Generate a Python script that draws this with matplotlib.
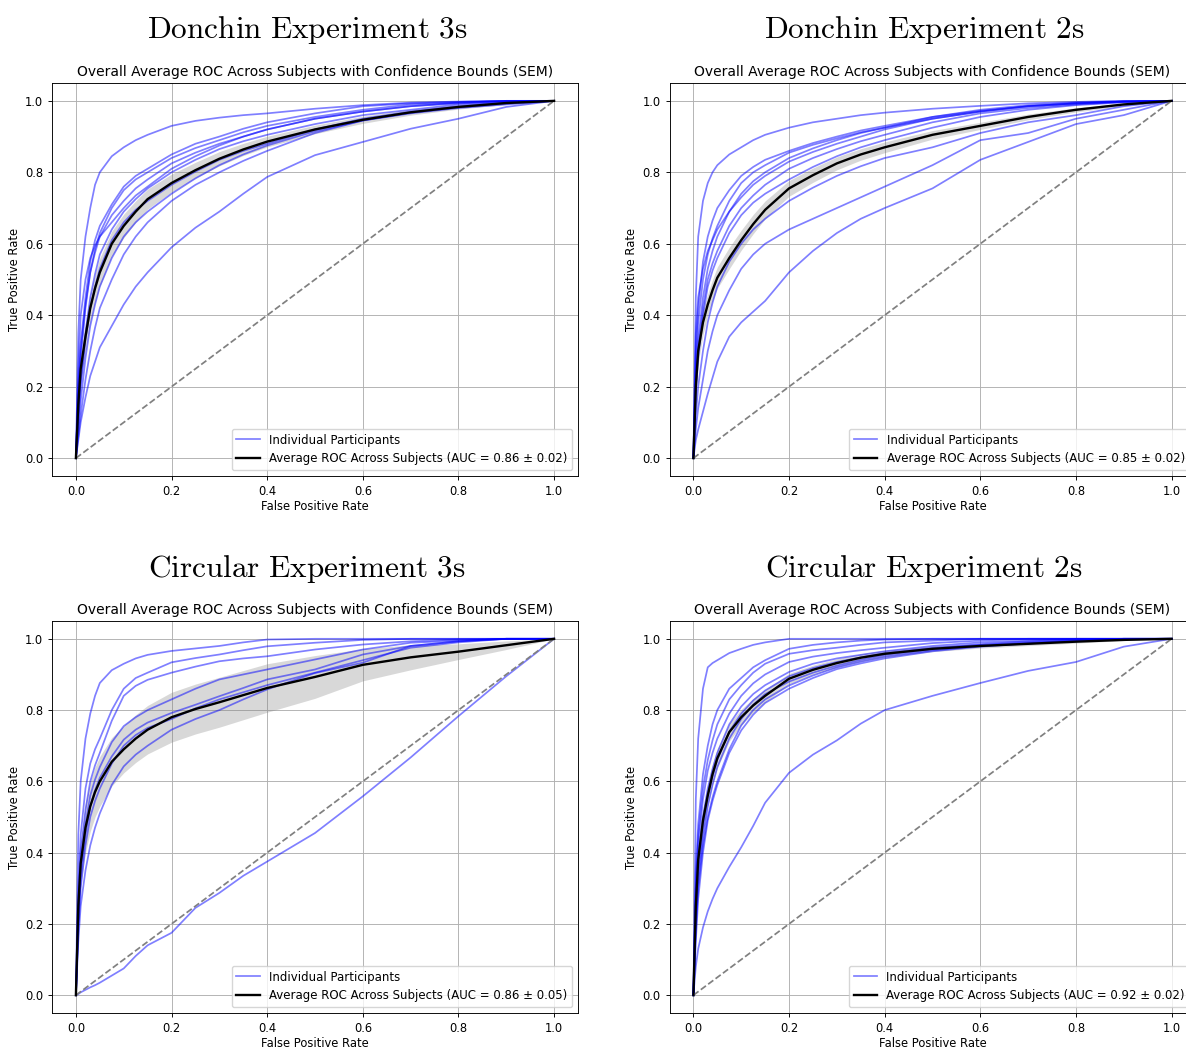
import numpy as np
import matplotlib
matplotlib.use("Agg")
import matplotlib.pyplot as plt

plt.rcParams["mathtext.fontset"] = "cm"
plt.rcParams["font.family"] = ["DejaVu Sans"]

# Common false-positive-rate grid on which every ROC curve is sampled
FPR_GRID = [0, 0.005, 0.01, 0.02, 0.03, 0.04, 0.05, 0.075, 0.1, 0.125, 0.15,
            0.2, 0.25, 0.3, 0.35, 0.4, 0.5, 0.6, 0.7, 0.8, 0.9, 1.0]

# ---------------- Donchin Experiment 3s ----------------
DONCHIN_3S_TPR = [
    [0, .35, .50, .62, .70, .765, .80, .845, .87, .89, .905, .93, .944, .953, .96, .965, .978, .988, .995, .998, 1, 1],
    [0, .20, .32, .45, .55, .61, .65, .71, .76, .79, .81, .85, .88, .90, .922, .94, .965, .985, .993, .997, 1, 1],
    [0, .15, .28, .42, .52, .585, .63, .70, .75, .78, .80, .84, .868, .89, .912, .93, .955, .975, .99, .995, 1, 1],
    [0, .18, .30, .43, .52, .575, .62, .68, .72, .755, .78, .825, .855, .88, .90, .92, .95, .97, .985, .993, .998, 1],
    [0, .12, .22, .35, .45, .515, .57, .64, .69, .725, .755, .80, .835, .865, .887, .905, .935, .96, .975, .99, .997, 1],
    [0, .10, .20, .33, .42, .48, .53, .61, .66, .695, .72, .765, .802, .835, .86, .88, .92, .95, .97, .985, .995, 1],
    [0, .08, .16, .28, .37, .43, .48, .56, .62, .66, .69, .74, .783, .82, .85, .875, .915, .945, .967, .982, .993, 1],
    [0, .06, .12, .22, .30, .365, .42, .50, .57, .62, .66, .72, .765, .80, .832, .86, .91, .945, .965, .98, .99, 1],
    [0, .05, .10, .17, .23, .27, .31, .37, .43, .48, .52, .59, .645, .69, .74, .787, .848, .885, .922, .95, .983, 1],
    [0, .25, .40, .50, .56, .595, .62, .66, .70, .735, .76, .81, .845, .875, .90, .92, .95, .97, .985, .995, 1, 1],
]
DONCHIN_3S_MEAN = [0, .15, .25, .34, .42, .475, .52, .60, .65, .69, .725, .77, .806, .838, .864, .886, .92, .947, .968, .983, .994, 1]
DONCHIN_3S_SEM = [0, .03, .035, .04, .04, .04, .04, .035, .033, .03, .028, .025, .022, .02, .017, .015, .012, .01, .008, .006, .004, 0]

# ---------------- Donchin Experiment 2s ----------------
DONCHIN_2S_TPR = [
    [0, .45, .62, .72, .77, .80, .82, .85, .87, .89, .905, .925, .94, .95, .96, .967, .978, .986, .993, .997, 1, 1],
    [0, .30, .42, .55, .62, .665, .70, .75, .79, .815, .835, .86, .882, .90, .917, .93, .955, .975, .988, .995, .999, 1],
    [0, .25, .38, .50, .57, .615, .65, .72, .77, .80, .82, .855, .877, .895, .912, .925, .955, .972, .985, .993, .998, 1],
    [0, .22, .33, .45, .53, .58, .62, .69, .74, .775, .80, .84, .867, .89, .91, .925, .95, .97, .985, .993, .998, 1],
    [0, .20, .30, .42, .50, .545, .58, .65, .70, .735, .765, .81, .84, .865, .887, .905, .94, .965, .98, .99, .997, 1],
    [0, .18, .28, .40, .48, .525, .56, .63, .68, .715, .74, .78, .815, .845, .87, .89, .925, .955, .975, .988, .996, 1],
    [0, .12, .20, .30, .38, .435, .48, .55, .60, .64, .67, .72, .757, .79, .817, .84, .87, .91, .94, .96, .985, 1],
    [0, .08, .14, .22, .30, .355, .40, .47, .53, .57, .60, .64, .67, .70, .73, .76, .82, .89, .91, .95, .975, 1],
    [0, .05, .08, .13, .18, .225, .27, .34, .38, .41, .44, .52, .58, .63, .67, .70, .755, .835, .885, .935, .96, 1],
    [0, .35, .45, .53, .58, .61, .64, .69, .73, .765, .79, .83, .857, .88, .90, .92, .95, .97, .985, .993, .998, 1],
]
DONCHIN_2S_MEAN = [0, .20, .30, .38, .43, .47, .505, .56, .61, .655, .695, .755, .792, .825, .85, .87, .905, .93, .955, .975, .99, 1]
DONCHIN_2S_SEM = [0, .03, .035, .035, .03, .03, .03, .03, .028, .027, .025, .022, .02, .018, .016, .015, .012, .01, .008, .006, .004, 0]

# ---------------- Circular Experiment 3s ----------------
CIRCULAR_3S_TPR = [
    [0, .45, .60, .72, .79, .84, .876, .912, .93, .945, .955, .966, .973, .98, .99, .998, 1, 1, 1, 1, 1, 1],
    [0, .30, .45, .58, .65, .69, .72, .80, .86, .89, .905, .934, .946, .956, .968, .979, .989, .997, 1, 1, 1, 1],
    [0, .25, .40, .52, .60, .645, .68, .77, .84, .868, .885, .905, .922, .937, .945, .951, .97, .984, .993, .998, 1, 1],
    [0, .22, .36, .48, .56, .605, .64, .71, .755, .78, .80, .83, .86, .886, .90, .914, .942, .97, .989, .995, 1, 1],
    [0, .20, .33, .45, .53, .575, .61, .67, .717, .745, .765, .792, .815, .839, .862, .886, .914, .956, .98, .993, 1, 1],
    [0, .15, .25, .35, .42, .47, .51, .59, .642, .675, .70, .745, .775, .80, .83, .858, .904, .933, .98, .993, 1, 1],
    [0, .18, .30, .42, .50, .545, .58, .65, .70, .73, .75, .775, .805, .83, .85, .87, .905, .94, .975, .99, 1, 1],
    [0, .003, .008, .015, .022, .028, .035, .055, .075, .11, .14, .175, .245, .287, .335, .375, .455, .558, .667, .783, .895, 1],
]
CIRCULAR_3S_MEAN = [0, .25, .37, .47, .53, .57, .60, .655, .69, .72, .745, .78, .803, .822, .842, .862, .893, .927, .948, .964, .982, 1]
CIRCULAR_3S_SEM = [0, .05, .06, .07, .07, .07, .07, .068, .066, .067, .068, .07, .07, .07, .069, .068, .06, .045, .035, .022, .012, 0]

# ---------------- Circular Experiment 2s ----------------
CIRCULAR_2S_TPR = [
    [0, .55, .72, .86, .92, .932, .94, .96, .972, .983, .99, 1, 1, 1, 1, 1, 1, 1, 1, 1, 1, 1],
    [0, .35, .48, .62, .70, .76, .80, .86, .89, .92, .94, .972, .983, .99, .995, .998, 1, 1, 1, 1, 1, 1],
    [0, .30, .45, .58, .66, .715, .76, .83, .87, .905, .93, .958, .968, .975, .983, .99, .995, 1, 1, 1, 1, 1],
    [0, .30, .42, .55, .63, .68, .72, .79, .84, .875, .90, .935, .95, .96, .968, .975, .988, .995, 1, 1, 1, 1],
    [0, .25, .38, .50, .58, .635, .68, .76, .81, .845, .87, .907, .93, .945, .955, .965, .98, .99, .995, 1, 1, 1],
    [0, .22, .35, .47, .56, .615, .66, .74, .79, .827, .855, .895, .918, .935, .948, .96, .975, .985, .993, .998, 1, 1],
    [0, .20, .32, .44, .53, .59, .64, .72, .775, .815, .845, .88, .905, .925, .941, .955, .972, .983, .99, .996, 1, 1],
    [0, .18, .30, .42, .50, .555, .60, .69, .757, .80, .83, .869, .897, .92, .936, .95, .968, .98, .988, .995, 1, 1],
    [0, .15, .27, .40, .49, .545, .59, .68, .743, .787, .82, .86, .89, .915, .931, .945, .965, .978, .987, .994, 1, 1],
    [0, .08, .13, .19, .235, .27, .30, .36, .415, .475, .54, .624, .675, .715, .762, .80, .84, .876, .91, .935, .978, 1],
]
CIRCULAR_2S_MEAN = [0, .25, .38, .49, .56, .62, .665, .738, .78, .813, .84, .888, .913, .932, .947, .958, .972, .98, .986, .992, .997, 1]
CIRCULAR_2S_SEM = [0, .04, .04, .035, .03, .029, .028, .025, .022, .02, .018, .015, .013, .012, .011, .01, .008, .006, .005, .004, .002, 0]

PANEL_TITLES = ["Donchin Experiment 3s", "Donchin Experiment 2s",
                "Circular Experiment 3s", "Circular Experiment 2s"]
AUC_MEAN = [0.86, 0.85, 0.86, 0.92]
AUC_SEM = [0.02, 0.02, 0.05, 0.02]

panels = [
    (DONCHIN_3S_TPR, DONCHIN_3S_MEAN, DONCHIN_3S_SEM),
    (DONCHIN_2S_TPR, DONCHIN_2S_MEAN, DONCHIN_2S_SEM),
    (CIRCULAR_3S_TPR, CIRCULAR_3S_MEAN, CIRCULAR_3S_SEM),
    (CIRCULAR_2S_TPR, CIRCULAR_2S_MEAN, CIRCULAR_2S_SEM),
]

W, H = 1186, 1049
fig = plt.figure(figsize=(W / 100, H / 100), dpi=100)

# axes boxes in pixels: (left, top, width, height)
boxes = [(52, 83, 526, 393), (669.5, 83, 526, 393),
         (52, 621, 526, 392), (669.5, 621, 526, 392)]
heading_pos = [(307, 38), (924, 38), (307, 577), (924, 577)]

FS = 8.3
for k, ((curves, mean, sem), box, hpos) in enumerate(zip(panels, boxes, heading_pos)):
    l, t, w, h = box
    ax = fig.add_axes([l / W, 1 - (t + h) / H, w / W, h / H])
    fpr = np.array(FPR_GRID)
    for i, tpr in enumerate(curves):
        ax.plot(fpr, tpr, color="blue", alpha=0.5, lw=1.25,
                label="Individual Participants" if i == 0 else None)
    ax.plot([0, 1], [0, 1], linestyle="--", color="gray", lw=1.25)
    m = np.array(mean)
    s = np.array(sem)
    ax.plot(fpr, m, color="black", lw=1.7,
            label=f"Average ROC Across Subjects (AUC = {AUC_MEAN[k]:.2f} \u00b1 {AUC_SEM[k]:.2f})")
    ax.fill_between(fpr, np.clip(m - s, 0, 1), np.clip(m + s, 0, 1),
                    color="grey", alpha=0.3, lw=0)
    ax.set_xlim(-0.05, 1.05)
    ax.set_ylim(-0.05, 1.05)
    ax.set_xticks([0, 0.2, 0.4, 0.6, 0.8, 1.0])
    ax.set_yticks([0, 0.2, 0.4, 0.6, 0.8, 1.0])
    ax.tick_params(labelsize=FS, length=2.9, width=0.66)
    for sp in ax.spines.values():
        sp.set_linewidth(0.66)
    ax.grid(True, lw=0.66)
    ax.set_axisbelow(True)
    ax.set_xlabel("False Positive Rate", fontsize=FS, labelpad=1.2)
    ax.set_ylabel("True Positive Rate", fontsize=FS, labelpad=2.9)
    ax.set_title("Overall Average ROC Across Subjects with Confidence Bounds (SEM)",
                 fontsize=10, pad=5)
    ax.legend(loc="lower right", fontsize=8.45)
    hx, hy = hpos
    fig.text(hx / W, 1 - hy / H, r"$\mathrm{" + PANEL_TITLES[k].replace(" ", r"\ ") + "}$",
             ha="center", va="baseline", fontsize=22.5)

fig.savefig("out.png", dpi=100)
